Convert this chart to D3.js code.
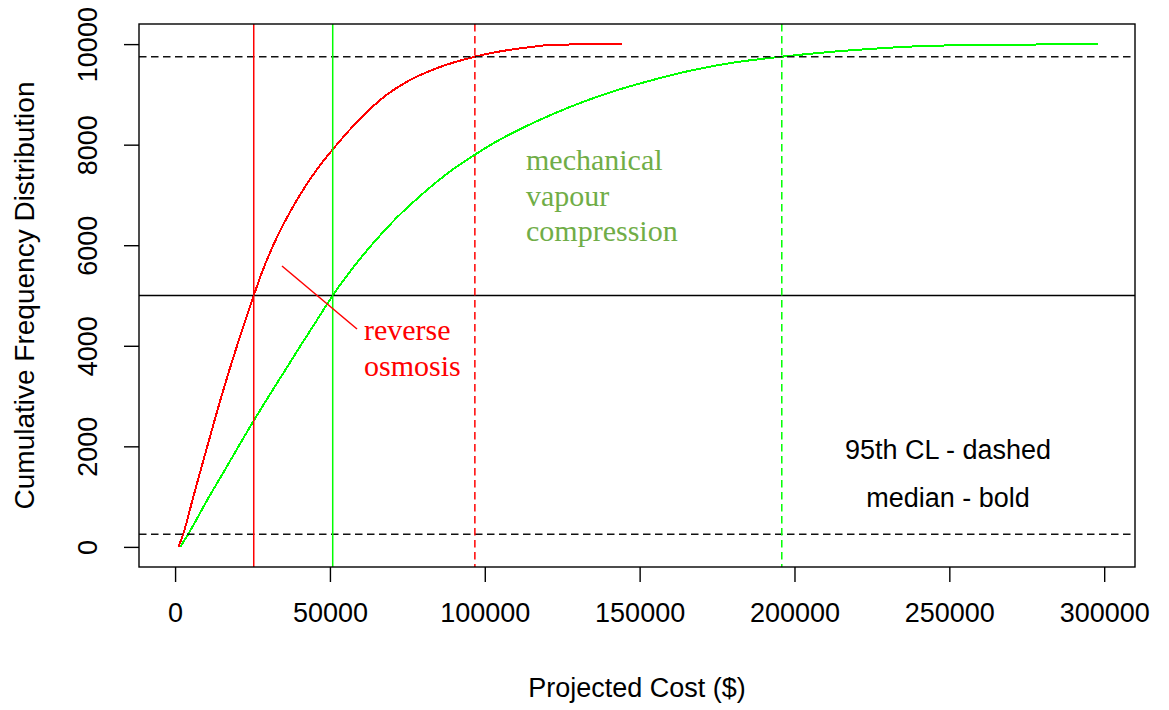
<!DOCTYPE html>
<html>
<head>
<meta charset="utf-8">
<script src="https://cdn.jsdelivr.net/npm/d3@7"></script>
<style>
  html, body { margin: 0; padding: 0; background: #fff; }
  svg { display: block; }
  .sans { font-family: "Liberation Sans", Arial, sans-serif; }
  .serif { font-family: "Liberation Serif", "Times New Roman", serif; }
</style>
</head>
<body>
<svg id="chart" width="1169" height="710"></svg>
<script>
// Cumulative frequency (count out of 10000 runs) against projected cost ($)
const roCounts = [0, 250, 1000, 2000, 3000, 4000, 5000, 5500, 6000, 6500, 7000, 7500, 8000, 8500, 9000, 9250, 9500, 9750, 9900, 9950, 9990, 10000];
const roCosts  = [1100, 2600, 5900, 10400, 15000, 20000, 25400, 28300, 31700, 35700, 40300, 45700, 52200, 59500, 68500, 74800, 83600, 96800, 109500, 116000, 122500, 144300];

const mvcCounts = [0, 250, 1000, 1500, 2000, 2500, 3000, 3500, 4000, 4500, 5000, 5500, 6000, 6500, 7000, 7500, 7800, 8000, 8250, 8500, 8750, 9000, 9250, 9500, 9625, 9750, 9850, 9900, 9950, 9980, 10000];
const mvcCosts  = [1700, 4200, 11000, 15800, 20500, 25300, 30300, 35400, 40500, 45700, 50900, 56800, 63400, 70800, 79500, 89500, 96800, 102000, 109500, 118000, 127500, 138500, 152000, 168500, 179500, 195900, 212500, 223500, 237000, 255000, 298000];

// Reference levels: median and 95% confidence limits
const medianLevel = 5000;
const clLevels = [250, 9750];
const roMedian = 25400, roUpper = 96800;
const mvcMedian = 50900, mvcUpper = 195900;

const xTicks = [0, 50000, 100000, 150000, 200000, 250000, 300000];
const yTicks = [0, 2000, 4000, 6000, 8000, 10000];

const svg = d3.select("#chart");
const plotL = 139, plotR = 1135, plotT = 24, plotB = 567;

const x = d3.scaleLinear().domain([-11650, 309950]).range([plotL, plotR]);
const y = d3.scaleLinear().domain([-400, 10400]).range([plotB, plotT]);

const RED = "#ff0000", GREEN = "#00ff00";

// Cumulative curves
const line = d3.line().x(d => x(d[0])).y(d => y(d[1])).curve(d3.curveMonotoneX);
const roData = d3.zip(roCosts, roCounts);
const mvcData = d3.zip(mvcCosts, mvcCounts);

svg.append("path").datum(roData).attr("d", line)
  .attr("fill", "none").attr("stroke", RED).attr("stroke-width", 2)
  .attr("shape-rendering", "crispEdges");
svg.append("path").datum(mvcData).attr("d", line)
  .attr("fill", "none").attr("stroke", GREEN).attr("stroke-width", 2)
  .attr("shape-rendering", "crispEdges");

// Horizontal reference lines
svg.append("line")
  .attr("x1", plotL).attr("x2", plotR)
  .attr("y1", y(medianLevel)).attr("y2", y(medianLevel))
  .attr("stroke", "#000").attr("stroke-width", 1.5);
clLevels.forEach(v => {
  svg.append("line")
    .attr("x1", plotL).attr("x2", plotR)
    .attr("y1", y(v)).attr("y2", y(v))
    .attr("stroke", "#111").attr("stroke-width", 1.5)
    .attr("stroke-dasharray", "7.5,4.5");
});

// Vertical reference lines: solid = median, dashed = 95th CL
const vlines = [
  { v: roMedian, c: RED, dash: null },
  { v: mvcMedian, c: GREEN, dash: null },
  { v: roUpper, c: RED, dash: "7.5,4.5" },
  { v: mvcUpper, c: GREEN, dash: "7.5,4.5" }
];
vlines.forEach(l => {
  svg.append("line")
    .attr("x1", x(l.v)).attr("x2", x(l.v))
    .attr("y1", plotT).attr("y2", plotB)
    .attr("stroke", l.c).attr("stroke-width", 1.5)
    .attr("stroke-dasharray", l.dash);
});

// Plot frame
svg.append("rect")
  .attr("x", plotL).attr("y", plotT)
  .attr("width", plotR - plotL).attr("height", plotB - plotT)
  .attr("fill", "none").attr("stroke", "#000").attr("stroke-width", 1.4);

// Axes
const xAxis = svg.append("g").attr("class", "sans")
  .attr("transform", `translate(0,${plotB})`)
  .call(d3.axisBottom(x).tickValues(xTicks).tickFormat(d3.format("d")).tickSize(15).tickPadding(21));
xAxis.select(".domain").remove();
xAxis.selectAll(".tick line").attr("stroke", "#000").attr("stroke-width", 1.4);
xAxis.selectAll(".tick text").attr("font-size", 27).attr("fill", "#000")
  .attr("font-family", "Liberation Sans, Arial, sans-serif");

const yAxis = svg.append("g").attr("class", "sans")
  .attr("transform", `translate(${plotL},0)`)
  .call(d3.axisLeft(y).tickValues(yTicks).tickFormat(d3.format("d")).tickSize(15));
yAxis.select(".domain").remove();
yAxis.selectAll(".tick line").attr("stroke", "#000").attr("stroke-width", 1.4);
yAxis.selectAll(".tick text")
  .attr("font-size", 27).attr("fill", "#000")
  .attr("font-family", "Liberation Sans, Arial, sans-serif")
  .attr("transform", "rotate(-90)")
  .attr("text-anchor", "middle")
  .attr("x", 0).attr("y", -42).attr("dy", 0);

// Axis titles
svg.append("text").attr("class", "sans")
  .attr("x", (plotL + plotR) / 2).attr("y", 697)
  .attr("text-anchor", "middle").attr("font-size", 27).attr("fill", "#000")
  .text("Projected Cost ($)");
svg.append("text").attr("class", "sans")
  .attr("transform", `translate(34,${(plotT + plotB) / 2}) rotate(-90)`)
  .attr("text-anchor", "middle").attr("font-size", 28).attr("fill", "#000")
  .text("Cumulative Frequency Distribution");

// Key
svg.append("text").attr("class", "sans")
  .attr("x", 948).attr("y", 459).attr("text-anchor", "middle")
  .attr("font-size", 27).attr("fill", "#000").text("95th CL - dashed");
svg.append("text").attr("class", "sans")
  .attr("x", 948).attr("y", 507).attr("text-anchor", "middle")
  .attr("font-size", 27).attr("fill", "#000").text("median - bold");

// Series labels
const mvcLabel = svg.append("text").attr("class", "serif")
  .attr("font-size", 30).attr("fill", "#70ad47");
["mechanical", "vapour", "compression"].forEach((t, i) => {
  mvcLabel.append("tspan").attr("x", 526).attr("y", 170 + i * 35.5).text(t);
});

const roLabel = svg.append("text").attr("class", "serif")
  .attr("font-size", 30).attr("fill", RED);
["reverse", "osmosis"].forEach((t, i) => {
  roLabel.append("tspan").attr("x", 364).attr("y", 340 + i * 36).text(t);
});
svg.append("line")
  .attr("x1", 282).attr("y1", 266).attr("x2", 357).attr("y2", 329)
  .attr("stroke", RED).attr("stroke-width", 1.5);
</script>
</body>
</html>
